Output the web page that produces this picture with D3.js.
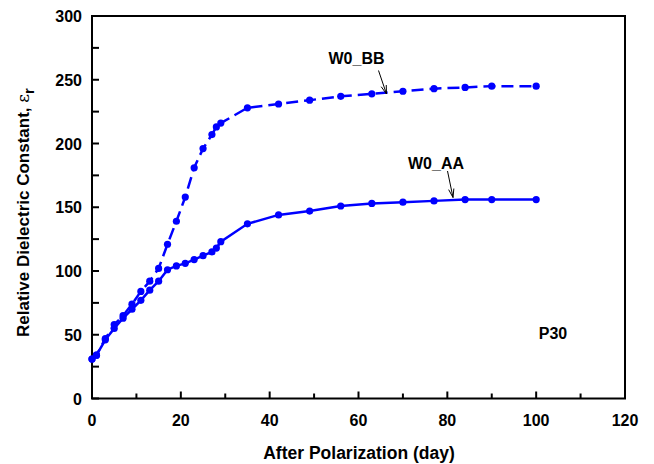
<!DOCTYPE html>
<html><head><meta charset="utf-8">
<script src="https://cdn.jsdelivr.net/npm/d3@7/dist/d3.min.js"></script>
<style>body{margin:0;background:#fff}svg{display:block}text{font-family:Arial,"Liberation Sans",sans-serif;font-weight:bold}</style>
</head><body><svg id="c" width="654" height="464"></svg>
<script>
const days = [0,1,3,5,7,9,11,13,15,17,19,21,23,25,27,28,29,35,42,49,56,63,70,77,84,90,100];
const bbValues = [31,34,47,58,65,74,84,92,102,121,139,158,181,196,207,213,216,228,231,234,237,239,241,243,244,245,245];
const aaValues = [31,34,46,55,63,70,77,85,92,101,104,106,109,112,115,118,123,137,144,147,151,153,154,155,156,156,156];
const xTicks = [0,20,40,60,80,100,120];
const yTicks = [0,50,100,150,200,250,300];

const svg = d3.select("#c");
const L=92,R=625,T=16,B=398.5;
const x = d3.scaleLinear().domain([0,120]).range([L,R]);
const y = d3.scaleLinear().domain([0,300]).range([B,T]);
const blue = "#0000ff";

// ticks (inward)
const g = svg.append("g");
d3.range(0,121,10).forEach(v=>{
  const len = v%20===0?7:5;
  g.append("line").attr("x1",x(v)).attr("x2",x(v)).attr("y1",B).attr("y2",B-len).attr("stroke","#000").attr("stroke-width",2);
});
d3.range(0,301,25).forEach(v=>{
  g.append("line").attr("x1",L).attr("x2",L+7).attr("y1",y(v)).attr("y2",y(v)).attr("stroke","#000").attr("stroke-width",2);
});
// tick labels
svg.append("g").selectAll("text").data(xTicks).join("text")
  .attr("x",d=>x(d)).attr("y",B+27).attr("text-anchor","middle").attr("font-size",16).text(d=>d);
svg.append("g").selectAll("text").data(yTicks).join("text")
  .attr("x",L-10).attr("y",d=>y(d)+6).attr("text-anchor","end").attr("font-size",16).text(d=>d);

// frame
svg.append("rect").attr("x",L).attr("y",T).attr("width",R-L).attr("height",B-T)
  .attr("fill","none").attr("stroke","#000").attr("stroke-width",2);

// lines
const line = d3.line().x((d,i)=>x(days[i])).y(d=>y(d));
svg.append("path").attr("d",line(bbValues)).attr("fill","none").attr("stroke",blue)
  .attr("stroke-width",2.5).attr("stroke-dasharray","12,6");
svg.append("path").attr("d",line(aaValues)).attr("fill","none").attr("stroke",blue)
  .attr("stroke-width",2.5);
[bbValues,aaValues].forEach(arr=>{
  svg.append("g").selectAll("circle").data(arr).join("circle")
    .attr("cx",(d,i)=>x(days[i])).attr("cy",d=>y(d)).attr("r",3.6).attr("fill",blue);
});

// annotations
function arrow(x1,y1,x2,y2){
  svg.append("line").attr("x1",x1).attr("y1",y1).attr("x2",x2).attr("y2",y2).attr("stroke","#000").attr("stroke-width",1);
  const a=Math.atan2(y2-y1,x2-x1), h=9, s=0.3;
  [a+Math.PI-s,a+Math.PI+s].forEach(b=>{
    svg.append("line").attr("x1",x2).attr("y1",y2).attr("x2",x2+h*Math.cos(b)).attr("y2",y2+h*Math.sin(b)).attr("stroke","#000").attr("stroke-width",1);
  });
}
svg.append("text").attr("x",356.5).attr("y",63.5).attr("text-anchor","middle").attr("font-size",16).text("W0_BB");
arrow(378.5,70.5,386.5,94);
svg.append("text").attr("x",436).attr("y",168.5).attr("text-anchor","middle").attr("font-size",16).text("W0_AA");
arrow(447.5,171,453,197.5);
svg.append("text").attr("x",553).attr("y",338.5).attr("text-anchor","middle").attr("font-size",16).text("P30");

// axis titles
svg.append("text").attr("x",359).attr("y",459).attr("text-anchor","middle").attr("font-size",17.5).text("After Polarization (day)");
const yt = svg.append("text").attr("transform","translate(29,337) rotate(-90)")
  .attr("text-anchor","start").attr("font-size",17);
yt.append("tspan").text("Relative Dielectric Constant, ");
yt.append("tspan").attr("font-weight","normal").attr("font-family","'DejaVu Serif',serif").text("ε");
yt.append("tspan").attr("dy",5).attr("font-size",15).text("r");
</script></body></html>
